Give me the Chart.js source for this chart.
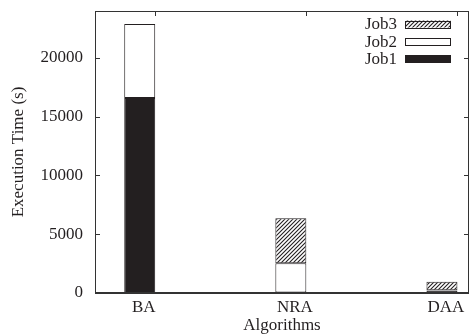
<!DOCTYPE html>
<html>
<head>
<meta charset="utf-8">
<script src="https://cdn.jsdelivr.net/npm/chart.js@4.4.1/dist/chart.umd.min.js"></script>
<style>
  body { margin: 0; background: #fff; }
  #wrap { width: 470px; height: 336px; }
</style>
</head>
<body>
<div id="wrap"><canvas id="chart" width="470" height="336"></canvas></div>
<script>
// data
const categories = ['BA', 'NRA', 'DAA'];
const seriesNames = ['Job1', 'Job2', 'Job3'];
const job1 = [16600, 50, 200];
const job2 = [6300, 2480, 30];
const job3 = [0, 3830, 720];
const yTicks = [0, 5000, 10000, 15000, 20000];

const ink = '#231f20';
const serif = '"Liberation Serif", "Times New Roman", serif';

// diagonal hatch like gnuplot's fill pattern
function hatch() {
    const c = document.createElement('canvas');
    c.width = 4; c.height = 4;
    const g = c.getContext('2d');
    g.fillStyle = '#fff';
    g.fillRect(0, 0, 4, 4);
    g.strokeStyle = ink;
    g.lineWidth = 1.1;
    g.beginPath();
    g.moveTo(0, 4); g.lineTo(4, 0);
    g.moveTo(-1, 1); g.lineTo(1, -1);
    g.moveTo(3, 5); g.lineTo(5, 3);
    g.stroke();
    return g.createPattern(c, 'repeat');
}

const toPoints = arr => arr.map((v, i) => ({ x: i, y: v }));

const fills = [ink, '#ffffff', hatch()];
const seriesData = [job1, job2, job3];

const datasets = seriesNames.map((name, i) => ({
    label: name,
    data: toPoints(seriesData[i]),
    backgroundColor: fills[i],
    borderColor: ink,
    borderWidth: 1,
    borderSkipped: false,
    barPercentage: 0.205,
    categoryPercentage: 1
}));

// frame with inward ticks, like gnuplot's border
const framePlugin = {
    id: 'frame',
    afterDatasetsDraw(chart) {
        const { ctx, chartArea: a, scales } = chart;
        ctx.save();
        ctx.strokeStyle = '#333';
        ctx.lineWidth = 1;
        ctx.strokeRect(a.left + 0.5, a.top + 0.5, a.right - a.left - 1, a.bottom - a.top);
        ctx.lineWidth = 2;
        ctx.beginPath();
        ctx.moveTo(a.left, a.bottom);
        ctx.lineTo(a.right, a.bottom);
        ctx.stroke();
        ctx.lineWidth = 1;
        ctx.beginPath();
        yTicks.forEach(v => {
            const y = Math.round(scales.y.getPixelForValue(v)) + 0.5;
            ctx.moveTo(a.left, y); ctx.lineTo(a.left + 5, y);
            ctx.moveTo(a.right, y); ctx.lineTo(a.right - 5, y);
        });
        categories.forEach((c, i) => {
            const x = Math.round(scales.x.getPixelForValue(i + 0.1)) + 0.5;
            ctx.moveTo(x, a.top); ctx.lineTo(x, a.top + 5);
        });
        ctx.stroke();
        ctx.restore();
    }
};

// legend inside the plot, text left of the sample, Job3 on top
const legendPlugin = {
    id: 'innerLegend',
    afterDraw(chart) {
        const { ctx, chartArea: a } = chart;
        const boxRight = a.right - 18;
        const boxW = 46, boxH = 7, rowH = 17.3;
        ctx.save();
        ctx.font = '17px ' + serif;
        ctx.textAlign = 'right';
        ctx.textBaseline = 'middle';
        const ds = chart.data.datasets.slice().reverse();
        ds.forEach((d, i) => {
            const cy = a.top + 13 + i * rowH;
            ctx.fillStyle = ink;
            ctx.fillText(d.label, boxRight - boxW - 8, cy + 1);
            ctx.fillStyle = d.backgroundColor;
            ctx.fillRect(boxRight - boxW, cy - boxH / 2, boxW, boxH);
            ctx.strokeStyle = ink;
            ctx.lineWidth = 1;
            ctx.strokeRect(boxRight - boxW + 0.5, Math.round(cy - boxH / 2) + 0.5, boxW - 1, boxH);
        });
        ctx.restore();
    }
};

new Chart(document.getElementById('chart'), {
    type: 'bar',
    data: { datasets: datasets },
    options: {
        responsive: false,
        animation: false,
        devicePixelRatio: 1,
        layout: { padding: { top: 11, right: 1, left: 0, bottom: 0 } },
        plugins: { legend: { display: false }, tooltip: { enabled: false } },
        scales: {
            x: {
                type: 'linear',
                stacked: true,
                offset: false,
                min: -0.296,
                max: 2.179,
                grid: { display: false, drawTicks: false },
                border: { display: false },
                afterFit: s => { s.height = 43; s.paddingLeft = 0; s.paddingRight = 0; },
                afterBuildTicks: s => { s.ticks = categories.map((c, i) => ({ value: i })); },
                ticks: {
                    color: ink,
                    font: { family: serif, size: 17 },
                    padding: 4,
                    labelOffset: 4,
                    maxRotation: 0,
                    callback: v => categories[v] ?? ''
                },
                title: {
                    display: true,
                    text: 'Algorithms',
                    color: ink,
                    font: { family: serif, size: 17 },
                    padding: { top: 0, bottom: 0 }
                }
            },
            y: {
                stacked: true,
                min: 0,
                max: 24000,
                grid: { display: false, drawTicks: false },
                border: { display: false },
                afterFit: s => { s.width = 95; s.paddingTop = 0; s.paddingBottom = 0; },
                afterBuildTicks: s => { s.ticks = yTicks.map(v => ({ value: v })); },
                ticks: {
                    color: ink,
                    font: { family: serif, size: 17 },
                    padding: 12,
                    callback: v => String(v)
                },
                title: {
                    display: true,
                    text: 'Execution Time (s)',
                    color: ink,
                    font: { family: serif, size: 17 },
                    padding: { top: 8, bottom: 0 }
                }
            }
        }
    },
    plugins: [framePlugin, legendPlugin]
});
</script>
</body>
</html>
